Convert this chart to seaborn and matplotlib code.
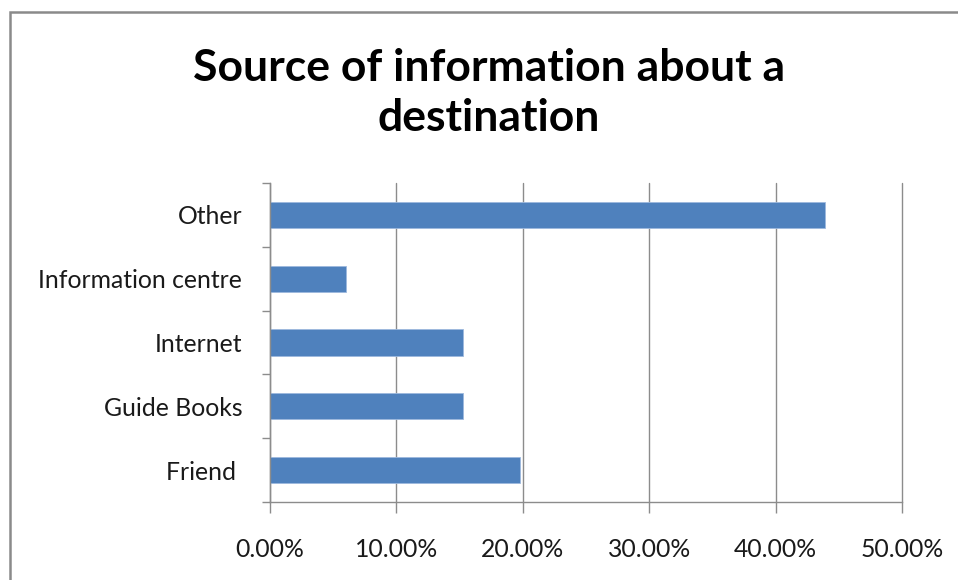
import matplotlib
matplotlib.use("Agg")
import matplotlib.pyplot as plt
import matplotlib.patches as mpatches
from matplotlib.ticker import FixedLocator, PercentFormatter
import seaborn as sns
import pandas as pd

# Survey answers: share of respondents per information source (%)
sources = ["Other", "Information centre", "Internet", "Guide Books", "Friend "]
shares = [43.9, 6.0, 15.25, 15.25, 19.8]
x_ticks = [0, 10, 20, 30, 40, 50]

sns.set_theme(style="white")
plt.rcParams["font.family"] = ["Lato", "DejaVu Sans"]

df = pd.DataFrame({"source": sources, "share": shares})

fig = plt.figure(figsize=(9.58, 5.8), dpi=100)
ax = fig.add_axes([270 / 958, 1 - 502 / 580, 632 / 958, 319 / 580])

sns.barplot(data=df, x="share", y="source", orient="h", color="#4F81BD",
            saturation=1, width=0.41, ax=ax, edgecolor="#9DB9DE", linewidth=0.6)

grid_c = "#8C8C8C"
ax.set_xlim(0, 50)
ax.set_ylim(len(sources) - 0.5, -0.5)
ax.xaxis.set_major_locator(FixedLocator(x_ticks))
ax.xaxis.set_major_formatter(PercentFormatter(decimals=2))
ax.grid(axis="x", color=grid_c, linewidth=1.0)
ax.grid(axis="y", visible=False)
ax.set_axisbelow(True)
ax.set_xlabel("")
ax.set_ylabel("")

for side in ("top", "right"):
    ax.spines[side].set_visible(False)
for side in ("left", "bottom"):
    ax.spines[side].set_color(grid_c)
    ax.spines[side].set_linewidth(1.0)

ax.tick_params(axis="x", direction="out", length=8, width=1.0, color=grid_c,
               labelsize=17.8, labelcolor="#1a1a1a", pad=18, bottom=True)
ax.tick_params(axis="y", which="major", length=0, labelsize=17.8,
               labelcolor="#1a1a1a", pad=20)
ax.yaxis.set_minor_locator(FixedLocator([i - 0.5 for i in range(len(sources) + 1)]))
ax.tick_params(axis="y", which="minor", direction="out", length=6, width=1.0,
               color=grid_c, left=True)

fig.canvas.draw()
for gl in ax.get_xgridlines():
    gl.set_clip_on(False)

fig.text(489 / 958, 1 - 93 / 580, "Source of information about a\ndestination",
         ha="center", va="center", fontsize=32, fontweight="bold",
         color="black", linespacing=1.3)

# Chart-area frame
fig.patches.append(mpatches.Rectangle((10 / 958, -0.05), 1.2, 1 - 12 / 580 + 0.05,
                                      transform=fig.transFigure, fill=False,
                                      edgecolor="#8A8A8A", linewidth=1.8))

fig.savefig("out.png", dpi=100, facecolor="white")
